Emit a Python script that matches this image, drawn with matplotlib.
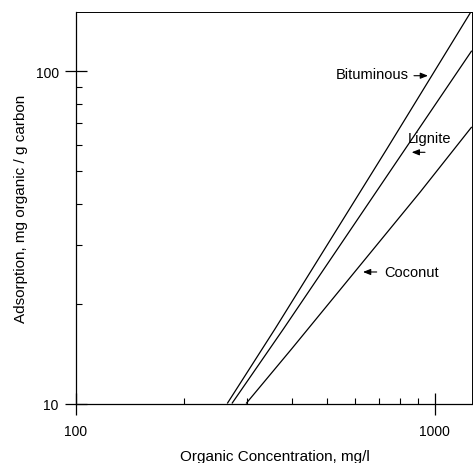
import matplotlib
matplotlib.use("Agg")
import matplotlib.pyplot as plt
from matplotlib.ticker import FixedLocator, NullFormatter, FixedFormatter, LogLocator

plt.rcParams['font.family'] = ['Liberation Sans', 'DejaVu Sans']

# Data: organic concentration (mg/l) vs adsorption (mg/g)
bituminous_conc = [264, 359, 735, 1262]
bituminous_ads = [10.0, 16.8, 58.4, 151.4]

lignite_conc = [272, 379, 827, 1268]
lignite_ads = [10.0, 16.8, 58.4, 115.5]

coconut_conc = [298, 399, 910, 1268]
coconut_ads = [10.0, 14.6, 43.3, 68.1]

x_ticks = [100, 1000]
x_tick_labels = ["100", "1000"]
y_ticks = [10, 100]
y_tick_labels = ["10", "100"]

fig = plt.figure(figsize=(4.73, 4.64), dpi=100)
ax = fig.add_axes([76/473, 1-404.5/464, 396/473, 392/464])

for xs, ys in [(bituminous_conc, bituminous_ads),
               (lignite_conc, lignite_ads),
               (coconut_conc, coconut_ads)]:
    ax.plot(xs, ys, color='black', lw=0.9, solid_capstyle='butt')

ax.set_xscale('log')
ax.set_yscale('log')
ax.set_xlim(100, 1270)
ax.set_ylim(10, 151.6)

ax.xaxis.set_major_locator(FixedLocator(x_ticks))
ax.xaxis.set_major_formatter(FixedFormatter(x_tick_labels))
ax.yaxis.set_major_locator(FixedLocator(y_ticks))
ax.yaxis.set_major_formatter(FixedFormatter(y_tick_labels))
ax.xaxis.set_minor_locator(LogLocator(base=10, subs=range(2, 10)))
ax.yaxis.set_minor_locator(LogLocator(base=10, subs=range(2, 10)))
ax.xaxis.set_minor_formatter(NullFormatter())
ax.yaxis.set_minor_formatter(NullFormatter())

ax.tick_params(which='major', direction='inout', length=16, width=0.9,
               labelsize=10, colors='black')
ax.tick_params(axis='x', which='major', pad=6.5)
ax.tick_params(axis='y', which='major', pad=4.5)
ax.tick_params(which='minor', direction='in', length=4, width=0.8)
ax.tick_params(top=False, right=False, which='both')

for s in ax.spines.values():
    s.set_linewidth(0.9)
    s.set_color('black')
ax.spines['top'].set_linewidth(0.7)
ax.spines['right'].set_linewidth(0.7)

ax.set_xlabel("Organic Concentration, mg/l", fontsize=11)
ax.set_ylabel("Adsorption, mg organic / g carbon", fontsize=11)
ax.xaxis.set_label_coords(0.5025, -0.115)
ax.yaxis.set_label_coords(-0.1205, 0.5)

ax.text(0.6558, 0.8406, "Bituminous", transform=ax.transAxes,
        ha='left', va='center', fontsize=10.5)
ax.text(0.8366, 0.6765, "Lignite", transform=ax.transAxes,
        ha='left', va='center', fontsize=10.5)
ax.text(0.7778, 0.3355, "Coconut", transform=ax.transAxes,
        ha='left', va='center', fontsize=10.5)

arrow_style = dict(arrowstyle='-|>,head_length=0.45,head_width=0.18',
                   lw=0.8, color='black', shrinkA=0, shrinkB=0)
# Bituminous arrow (points right)
ax.annotate('', xy=(0.8889, 0.8362), xytext=(0.8535, 0.8362),
            xycoords='axes fraction', textcoords='axes fraction',
            arrowprops=arrow_style)
# Lignite arrow (points left)
ax.annotate('', xy=(0.8477, 0.6408), xytext=(0.8813, 0.6408),
            xycoords='axes fraction', textcoords='axes fraction',
            arrowprops=arrow_style)
# Coconut arrow (points left)
ax.annotate('', xy=(0.7247, 0.3355), xytext=(0.7593, 0.3355),
            xycoords='axes fraction', textcoords='axes fraction',
            arrowprops=arrow_style)

fig.savefig("out.png", dpi=100)
